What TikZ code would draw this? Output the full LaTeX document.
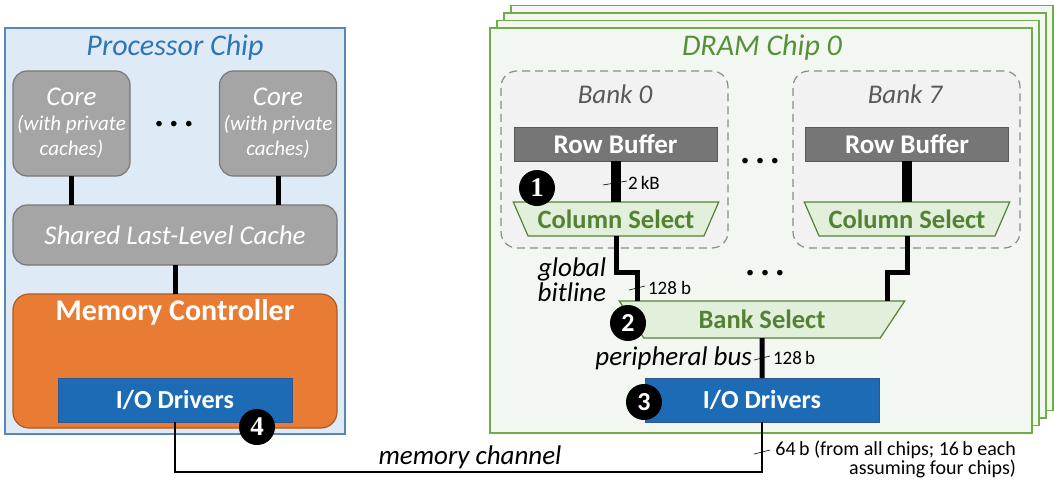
\documentclass[tikz,border=0pt]{standalone}
\usepackage{fontspec}
\setmainfont{Carlito}
\newfontfamily\badgeserif{Liberation Serif}
\usetikzlibrary{positioning,shapes.geometric}

\definecolor{procfill}{HTML}{DEEBF7}
\definecolor{procline}{HTML}{5B87B5}
\definecolor{proctext}{HTML}{2E75B6}
\definecolor{corefill}{HTML}{A5A5A5}
\definecolor{coreline}{HTML}{787878}
\definecolor{mcfill}{HTML}{E97C35}
\definecolor{mcline}{HTML}{AE5A21}
\definecolor{iofill}{HTML}{1E6BB5}
\definecolor{ioline}{HTML}{2F5597}
\definecolor{dramfill}{HTML}{F3F7F1}
\definecolor{dramline}{HTML}{70AD47}
\definecolor{dramtext}{HTML}{56913A}
\definecolor{bankfill}{HTML}{F2F2F2}
\definecolor{bankline}{HTML}{8C8C8C}
\definecolor{banktext}{HTML}{595959}
\definecolor{rbfill}{HTML}{767676}
\definecolor{rbline}{HTML}{595959}
\definecolor{csfill}{HTML}{E2EFDA}
\definecolor{csline}{HTML}{548235}

\newcommand{\pxfont}[2]{\fontsize{#1}{#2}\selectfont}

\begin{document}
\begin{tikzpicture}[x=1pt, y=-1pt, inner sep=0pt, outer sep=0pt]
    \tikzstyle{procchip}=[rectangle, draw=procline, fill=procfill, line width=1.5pt, minimum width=340pt, minimum height=406pt]
    \tikzstyle{dramchip}=[rectangle, draw=dramline, fill=dramfill, line width=1.5pt, minimum width=542pt, minimum height=405pt]
    \tikzstyle{title}=[font=\itshape\pxfont{30}{30}]
    \tikzstyle{core}=[rectangle, rounded corners=14pt, draw=coreline, fill=corefill, line width=1.2pt, text=white, align=center, font=\itshape\pxfont{21}{25}, minimum width=117pt, minimum height=105pt]
    \tikzstyle{cache}=[rectangle, rounded corners=14pt, draw=coreline, fill=corefill, line width=1.2pt, text=white, font=\itshape\pxfont{27}{27}, minimum width=324pt, minimum height=60pt]
    \tikzstyle{memctrl}=[rectangle, rounded corners=16pt, draw=mcline, fill=mcfill, line width=1.2pt, minimum width=324pt, minimum height=134pt]
    \tikzstyle{iodrv}=[rectangle, draw=ioline, fill=iofill, line width=1pt, text=white, font=\bfseries\pxfont{26}{26}, minimum width=234pt, minimum height=44pt]
    \tikzstyle{bank}=[rectangle, rounded corners=16pt, draw=bankline, fill=bankfill, line width=1.2pt, dash pattern=on 8pt off 5pt, minimum width=227pt, minimum height=177pt]
    \tikzstyle{banklabel}=[text=banktext, font=\itshape\pxfont{27}{27}]
    \tikzstyle{rowbuf}=[rectangle, draw=rbline, fill=rbfill, line width=1pt, text=white, font=\bfseries\pxfont{27}{27}, minimum width=203pt, minimum height=34pt]
    \tikzstyle{selector}=[trapezium, trapezium stretches=true, shape border rotate=180, trapezium left angle=55, trapezium right angle=55, draw=csline, fill=csfill, line width=1.2pt, text=csline, font=\bfseries\pxfont{26.5}{26.5}]
    \tikzstyle{badge}=[circle, fill=black, text=white, minimum size=36pt, font=\bfseries\pxfont{26}{26}]
    \tikzstyle{dots}=[font=\bfseries\pxfont{30}{30}]
    \tikzstyle{bus}=[line width=5pt]
    \tikzstyle{fatbus}=[line width=10pt]
    \tikzstyle{wire}=[line width=1.6pt]
    \tikzstyle{tick}=[line width=0.6pt]
    \tikzstyle{note}=[font=\pxfont{19}{17}]
    \tikzstyle{buslabel}=[font=\itshape\pxfont{27}{25}]

    \useasboundingbox (0,0) rectangle (1054,479);

    % Processor chip
    \node[procchip] (proc) at (175,231) {};
    \node[title, text=proctext] (proctitle) at (175,48) {Processor Chip};
    \node[core] (coreA) at (71.5,123.5) {{\pxfont{27}{25}Core}\\(with private\\caches)};
    \node[core] (coreB) at (278,123.5) {{\pxfont{27}{25}Core}\\(with private\\caches)};
    \node[dots] (coredots) at (174,127) {· · ·};
    \node[cache] (llc) at (175,235) {Shared Last-Level Cache};
    \node[memctrl, label={[anchor=north, yshift=-5pt, text=white, font=\bfseries\pxfont{30}{30}]north:Memory Controller}] (mc) at (175,361) {};
    \node[iodrv] (pio) at (175,400) {I/O Drivers};

    \draw[bus] (coreA.south) -- (coreA.south |- llc.north);
    \draw[bus] (coreB.south) -- (coreB.south |- llc.north);
    \draw[bus] (llc.south) -- (mc.north);

    % DRAM chips (stack behind chip 0)
    \foreach \k in {3,2,1}
        \draw[draw=dramline, fill=dramfill, line width=1.5pt] (490+7*\k, 28-7.5*\k) rectangle (1032+7*\k, 433-7.5*\k);
    \node[dramchip] (dram0) at (761,230.5) {};
    \node[title, text=dramtext] (dramtitle) at (762,48) {DRAM Chip 0};

    % Banks
    \node[bank] (bank0) at (614.5,159.5) {};
    \node[bank] (bank7) at (906.5,159.5) {};
    \node[banklabel] (bank0lbl) at (615,94) {Bank 0};
    \node[banklabel] (bank7lbl) at (905,94) {Bank 7};
    \node[rowbuf] (rb0) at (615.5,144) {Row Buffer};
    \node[rowbuf] (rb7) at (907,144) {Row Buffer};
    \node[selector, minimum width=206pt, minimum height=34pt] (cs0) at (616,219) {Column Select};
    \node[selector, minimum width=206pt, minimum height=34pt] (cs7) at (907,219) {Column Select};
    \node[dots] (bankdots) at (760,164) {· · ·};

    \draw[fatbus] (rb0.south) -- (rb0.south |- cs0.north);
    \draw[fatbus] (rb7.south) -- (rb7.south |- cs7.north);

    % Bank select and I/O
    \node[selector, minimum width=286pt, minimum height=37pt] (bsel) at (762,319.5) {Bank Select};
    \node[iodrv] (dio) at (762,400) {I/O Drivers};
    \node[dots] (bsdots) at (765,276) {· · ·};

    \draw[bus] (cs0.south) -- ++(0,36) -| ([xshift=-125pt]bsel.north);
    \draw[bus] (cs7.south) -- ++(0,36) -| ([xshift=125pt]bsel.north);
    \draw[bus] (bsel.south) -- (dio.north);

    % memory channel
    \draw[wire] (pio.south) -- ++(0,50) -| (dio.south);

    % labels and widths
    \node[note, anchor=west] (kb) at (628,183) {2\,kB};
    \draw[tick] ([xshift=-25pt,yshift=-2pt]kb.west) -- ([xshift=-1pt,yshift=2pt]kb.west);
    \node[buslabel, align=right, anchor=east] (gbl) at (606,280) {global\\bitline};
    \node[note, anchor=west] (gbw) at (648,288) {128 b};
    \draw[tick] ([xshift=-19pt,yshift=-2pt]gbw.west) -- ([xshift=-3pt,yshift=2pt]gbw.west);
    \node[buslabel, anchor=east] (pbus) at (752,358) {peripheral bus};
    \node[note, anchor=west] (pbw) at (773,358) {128\,b};
    \draw[tick] ([xshift=-19pt,yshift=-2pt]pbw.west) -- ([xshift=-3pt,yshift=2pt]pbw.west);
    \node[buslabel] (chlbl) at (470,457) {memory channel};
    \node[note, font=\pxfont{20}{16}, align=right, anchor=north east] (chnote) at (1016,441) {64\,b (from all chips; 16\,b each\\assuming four chips)};
    \draw[tick] ([xshift=-8pt,yshift=-32pt]dio.south) -- ([xshift=8pt,yshift=-28pt]dio.south);

    % numbered badges
    \node[badge, font=\badgeserif\bfseries\pxfont{27}{27}] (b1) at (537,188) {1};
    \node[badge] (b2) at (628,323) {2};
    \node[badge] (b3) at (644,402) {3};
    \node[badge, font=\badgeserif\bfseries\pxfont{27}{27}] (b4) at (257,427) {4};
\end{tikzpicture}
\end{document}
